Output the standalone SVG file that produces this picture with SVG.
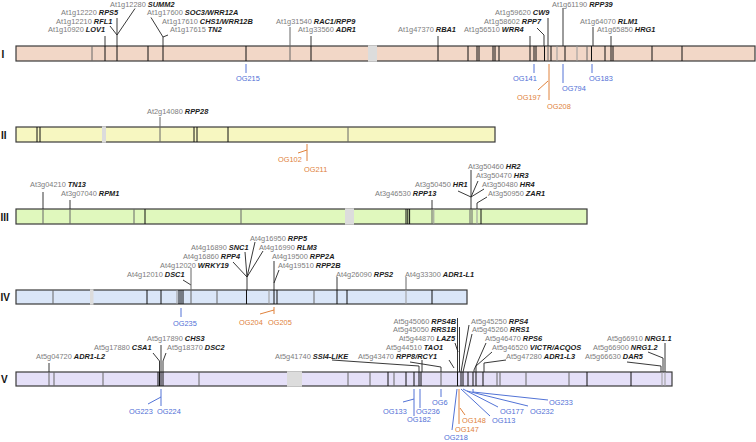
<svg xmlns="http://www.w3.org/2000/svg" width="756" height="442" viewBox="0 0 756 442">
<style>
.bar{stroke:#3a3a3a;stroke-width:1.2}
.cen{fill:#dcdcdc}
.m{stroke:#111;stroke-width:1;fill:none}
.mg{stroke:#666;stroke-width:1;fill:none}
.ml{stroke:#999;stroke-width:1;fill:none}
.ld{stroke:#222;stroke-width:0.9;fill:none}
.ldg{stroke:#666;stroke-width:1;fill:none}
.lb{stroke:#5273d6;stroke-width:1;fill:none}
.lo{stroke:#e0823c;stroke-width:1;fill:none}
text{font-family:"Liberation Sans",Arial,sans-serif;font-size:7.4px}
.id{fill:#7d7d7d}
.gn{fill:#1a1a1a;font-weight:bold;font-style:italic}
.ob{fill:#4f6fd6}
.oo{fill:#e0823c}
.chr{font-size:10px;font-weight:bold;fill:#111}
.e{text-anchor:end}
</style>

<g id="chr1">
<rect class="bar" x="16" y="46" width="739" height="15" fill="#f2d7c7"/>
<path class="m" d="M105 46V61M148 46V61M163 46V61M246 46V61M311 46V61M438 46V61M468 46V61M477 46V61M479 46V61M493 46V61M495 46V61M499 46V61M530 46V61M534 46V61M536 46V61M551 46V61M605 46V61M611 46V61M613 46V61M652 46V61M682 46V61"/>
<path class="m" stroke-width="2" d="M117 46V61M565 46V61"/>
<path class="m" stroke-width="3" d="M544.5 46V61"/>
<path class="m" stroke-width="2.5" d="M591.5 46V61"/>
<path class="mg" d="M92 46V61M290 46V61M548 46V61M587 46V61"/>
<path class="ml" d="M557 46V61M577 46V61"/>
<rect class="cen" x="368" y="45.3" width="9" height="16.4"/>
<text class="chr" x="1.5" y="57.5">I</text>
</g>

<g id="chr2">
<rect class="bar" x="16" y="127" width="479" height="15" fill="#f7f7c1"/>
<path class="m" d="M37 127V142M40 127V142M194 127V142M197 127V142M228 127V142"/>
<path class="mg" d="M160 127V142M348 127V142"/>
<rect class="cen" x="102" y="126.3" width="4" height="16.4"/>
<text class="chr" x="1" y="138.5">II</text>
</g>

<g id="chr3">
<rect class="bar" x="16" y="209" width="571" height="15" fill="#e0f8bd"/>
<path class="m" d="M145 209V224M406 209V224M407.8 209V224M409.6 209V224M481 209V224"/>
<path class="mg" d="M43 209V224M70 209V224M134 209V224M241 209V224M432 209V224M470 209V224M472 209V224"/>
<path class="ml" d="M433.8 209V224M477 209V224"/>
<rect class="cen" x="345" y="208.3" width="9" height="16.4"/>
<text class="chr" x="0.5" y="220.5">III</text>
</g>

<g id="chr4">
<rect class="bar" x="16" y="290" width="451" height="14" fill="#dae6f8"/>
<path class="m" d="M147 290V304M161 290V304M179 290V304M181 290V304M183 290V304M274 290V304M277 290V304M337 290V304M347 290V304M432 290V304"/>
<path class="m" stroke-width="3" d="M246.5 290V304"/>
<path class="mg" d="M53 290V304M191 290V304M217 290V304M314 290V304"/>
<path class="ml" d="M177 290V304M269 290V304M406 290V304"/>
<rect class="cen" x="90" y="289.3" width="3.5" height="15.4"/>
<text class="chr" x="0.5" y="300.5">IV</text>
</g>

<g id="chr5">
<rect class="bar" x="16" y="372" width="656" height="14" fill="#e5e0f8"/>
<path class="m" d="M158 372V386M159.5 372V386M161 372V386M163 372V386M388 372V386M406 372V386M414 372V386M419 372V386M421 372V386M461 372V386M463 372V386M468 372V386M473 372V386M476 372V386M483 372V386M587 372V386M631 372V386"/>
<path class="m" stroke-width="3" d="M457.5 372V386"/>
<path class="mg" d="M49 372V386M54 372V386M103 372V386M199 372V386M348 372V386M370 372V386M394 372V386M441 372V386M497 372V386M500 372V386M526 372V386M569 372V386"/>
<path class="ml" d="M662 372V386M665 372V386"/>
<rect class="cen" x="287" y="371.3" width="15" height="15.4"/>
<text class="chr" x="1" y="382.5">V</text>
</g>

<g id="connectors">
<path class="ld" d="M105 46V36M117 46V18M117 35L110 26M117 35L135 8.5M163 46V37L151 17.5M163 37L168 35M311 46V36M438 46V36M530 46V36M544 46V35L537 28M548 46V18M563 46V8M593 46V27M611 46V36"/>
<path class="ldg" d="M290 46V27"/>
<path class="ldg" d="M160 127V117"/>
<path class="ld" d="M43 209V192M70 209V200M432 209V200M471 209V170M458 191L471 197M471 197L478 181M471 197L484 189M477 209V203L487 197"/>
<path class="ld" d="M183 280L191 285M274 290V261M274 283L279 270M337 290V277M247 277L233 262M247 277L245 252M247 277L255 242M247 277L263 251"/>
<path class="ld" stroke-width="2.5" d="M247 290V277"/>
<path class="ldg" d="M191 290V268M406 290V277"/>
<path class="ld" d="M49 372V363M161 372V345M153 353L159.5 361V372M166 353L163 361V372M332 360L419 366V372M422 372V360M410 362L441 367V372M449 360L454 368M457.5 372V318M459.5 372V327M455 343L458 352M469 325L461 372M472 334L463 372M486 343L474 370V372M492 352L476 366V372M506 360L484 363V372M665 372V343M648 352L663 358V372M627 362L661 366V372"/>
<path class="lb" d="M246 64V73M534 64V73M563 64V83M592 64V73M181 308V317M161 389V406M148 404L161 397M414 389V416M403 402L414 399M420 389V408M441 389V397M457 389L452 430M461 389L490 416M463 389L498 407M467 391L528 406M473 389V392L548 400"/>
<path class="lo" d="M549 64V100M538 90L548 81M307 144V161M298 153L307 150M274 307V314M260 314L274 310M459 389V424M460 408L465 415"/>
</g>

<g id="labels1">
<text x="110" y="6.6"><tspan class="id">At1g12280</tspan> <tspan class="gn">SUMM2</tspan></text>
<text x="61" y="15.2"><tspan class="id">At1g12220</tspan> <tspan class="gn">RPS5</tspan></text>
<text x="56" y="23.8"><tspan class="id">At1g12210</tspan> <tspan class="gn">RFL1</tspan></text>
<text x="48" y="32.4"><tspan class="id">At1g10920</tspan> <tspan class="gn">LOV1</tspan></text>
<text x="147" y="15.2"><tspan class="id">At1g17600</tspan> <tspan class="gn">SOC3/WRR12A</tspan></text>
<text x="162" y="23.8"><tspan class="id">At1g17610</tspan> <tspan class="gn">CHS1/WRR12B</tspan></text>
<text x="170" y="32.4"><tspan class="id">At1g17615</tspan> <tspan class="gn">TN2</tspan></text>
<text x="276" y="23.8"><tspan class="id">At1g31540</tspan> <tspan class="gn">RAC1/RPP9</tspan></text>
<text x="298" y="32.4"><tspan class="id">At1g33560</tspan> <tspan class="gn">ADR1</tspan></text>
<text x="398" y="32.4"><tspan class="id">At1g47370</tspan> <tspan class="gn">RBA1</tspan></text>
<text x="464" y="32.4"><tspan class="id">At1g56510</tspan> <tspan class="gn">WRR4</tspan></text>
<text x="484" y="23.8"><tspan class="id">At1g58602</tspan> <tspan class="gn">RPP7</tspan></text>
<text x="495" y="15.2"><tspan class="id">At1g59620</tspan> <tspan class="gn">CW9</tspan></text>
<text x="552" y="6.6"><tspan class="id">At1g61190</tspan> <tspan class="gn">RPP39</tspan></text>
<text x="580" y="23.8"><tspan class="id">At1g64070</tspan> <tspan class="gn">RLM1</tspan></text>
<text x="597" y="32.4"><tspan class="id">At1g65850</tspan> <tspan class="gn">HRG1</tspan></text>
<text class="ob" x="236" y="80.5">OG215</text>
<text class="ob" x="513" y="80.5">OG141</text>
<text class="ob" x="589" y="80.5">OG183</text>
<text class="ob" x="562" y="90.5">OG794</text>
<text class="oo" x="517" y="99.5">OG197</text>
<text class="oo" x="547" y="108.5">OG208</text>
</g>

<g id="labels2">
<text x="147" y="113.5"><tspan class="id">At2g14080</tspan> <tspan class="gn">RPP28</tspan></text>
<text class="oo" x="278" y="161.5">OG102</text>
<text class="oo" x="304" y="171.5">OG211</text>
</g>

<g id="labels3">
<text x="30" y="186.5"><tspan class="id">At3g04210</tspan> <tspan class="gn">TN13</tspan></text>
<text x="61" y="195.5"><tspan class="id">At3g07040</tspan> <tspan class="gn">RPM1</tspan></text>
<text x="375" y="195.5"><tspan class="id">At3g46530</tspan> <tspan class="gn">RPP13</tspan></text>
<text x="415" y="186.5"><tspan class="id">At3g50450</tspan> <tspan class="gn">HR1</tspan></text>
<text x="468" y="168.5"><tspan class="id">At3g50460</tspan> <tspan class="gn">HR2</tspan></text>
<text x="476" y="177.5"><tspan class="id">At3g50470</tspan> <tspan class="gn">HR3</tspan></text>
<text x="482" y="186.5"><tspan class="id">At3g50480</tspan> <tspan class="gn">HR4</tspan></text>
<text x="488" y="195.5"><tspan class="id">At3g50950</tspan> <tspan class="gn">ZAR1</tspan></text>
</g>

<g id="labels4">
<text x="127" y="276.5"><tspan class="id">At4g12010</tspan> <tspan class="gn">DSC1</tspan></text>
<text x="160" y="267.5"><tspan class="id">At4g12020</tspan> <tspan class="gn">WRKY19</tspan></text>
<text x="183" y="258.5"><tspan class="id">At4g16860</tspan> <tspan class="gn">RPP4</tspan></text>
<text x="191" y="249.5"><tspan class="id">At4g16890</tspan> <tspan class="gn">SNC1</tspan></text>
<text x="250" y="240.5"><tspan class="id">At4g16950</tspan> <tspan class="gn">RPP5</tspan></text>
<text x="259" y="249.5"><tspan class="id">At4g16990</tspan> <tspan class="gn">RLM3</tspan></text>
<text x="272" y="258.5"><tspan class="id">At4g19500</tspan> <tspan class="gn">RPP2A</tspan></text>
<text x="278" y="267.5"><tspan class="id">At4g19510</tspan> <tspan class="gn">RPP2B</tspan></text>
<text x="336" y="276.5"><tspan class="id">At4g26090</tspan> <tspan class="gn">RPS2</tspan></text>
<text x="405" y="276.5"><tspan class="id">At4g33300</tspan> <tspan class="gn">ADR1-L1</tspan></text>
<text class="ob" x="173" y="325.5">OG235</text>
<text class="oo" x="239" y="324.8">OG204</text>
<text class="oo" x="268" y="324.8">OG205</text>
</g>

<g id="labels5">
<text x="36" y="358.7"><tspan class="id">At5g04720</tspan> <tspan class="gn">ADR1-L2</tspan></text>
<text x="94" y="350"><tspan class="id">At5g17880</tspan> <tspan class="gn">CSA1</tspan></text>
<text x="147" y="341.2"><tspan class="id">At5g17890</tspan> <tspan class="gn">CHS3</tspan></text>
<text x="167" y="350"><tspan class="id">At5g18370</tspan> <tspan class="gn">DSC2</tspan></text>
<text x="275" y="358.7"><tspan class="id">At5g41740</tspan> <tspan class="gn">SSI4-LIKE</tspan></text>
<text class="e" x="437" y="358.7"><tspan class="id">At5g43470</tspan> <tspan class="gn">RPP8/RCY1</tspan></text>
<text class="e" x="443" y="350"><tspan class="id">At5g44510</tspan> <tspan class="gn">TAO1</tspan></text>
<text class="e" x="455" y="341.2"><tspan class="id">At5g44870</tspan> <tspan class="gn">LAZ5</tspan></text>
<text class="e" x="456" y="332.4"><tspan class="id">At5g45050</tspan> <tspan class="gn">RRS1B</tspan></text>
<text class="e" x="456" y="323.6"><tspan class="id">At5g45060</tspan> <tspan class="gn">RPS4B</tspan></text>
<text x="471" y="323.6"><tspan class="id">At5g45250</tspan> <tspan class="gn">RPS4</tspan></text>
<text x="472" y="332.4"><tspan class="id">At5g45260</tspan> <tspan class="gn">RRS1</tspan></text>
<text x="485" y="341.2"><tspan class="id">At5g46470</tspan> <tspan class="gn">RPS6</tspan></text>
<text x="492" y="350"><tspan class="id">At5g46520</tspan> <tspan class="gn">VICTR/ACQOS</tspan></text>
<text x="506" y="358.7"><tspan class="id">At5g47280</tspan> <tspan class="gn">ADR1-L3</tspan></text>
<text x="607" y="341.2"><tspan class="id">At5g66910</tspan> <tspan class="gn">NRG1.1</tspan></text>
<text x="593" y="350"><tspan class="id">At5g66900</tspan> <tspan class="gn">NRG1.2</tspan></text>
<text x="585" y="358.7"><tspan class="id">At5g66630</tspan> <tspan class="gn">DAR5</tspan></text>
<text class="ob" x="129" y="413.5">OG223</text>
<text class="ob" x="157" y="413.5">OG224</text>
<text class="ob" x="383" y="413.5">OG133</text>
<text class="ob" x="407" y="422">OG182</text>
<text class="ob" x="416" y="413.5">OG236</text>
<text class="ob" x="432" y="404.5">OG6</text>
<text class="ob" x="444" y="439.8">OG218</text>
<text class="oo" x="455" y="431.5">OG147</text>
<text class="oo" x="462" y="422.5">OG148</text>
<text class="ob" x="492" y="422.5">OG113</text>
<text class="ob" x="500" y="413.5">OG177</text>
<text class="ob" x="530" y="413.5">OG232</text>
<text class="ob" x="549" y="404.5">OG233</text>
</g>
</svg>
